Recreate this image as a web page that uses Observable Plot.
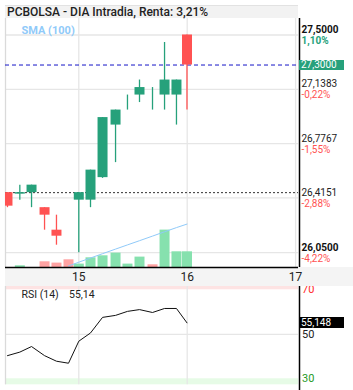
<!DOCTYPE html>
<html><head><meta charset="utf-8">
<script src="https://cdn.jsdelivr.net/npm/d3@7"></script>
<script src="https://cdn.jsdelivr.net/npm/@observablehq/plot@0.6"></script>
<style>
html,body{margin:0;padding:0;background:#fff;}
body{width:353px;height:390px;position:relative;overflow:hidden;font-family:Roboto,"Noto Sans",sans-serif;}
#title{position:absolute;left:5px;top:5px;width:293px;height:13px;background:#f2f2f2;border-top:1px solid #e2e2e2;box-sizing:border-box;font-size:12px;font-weight:500;color:#222;line-height:12px;padding-left:2px;white-space:nowrap;}
#band{position:absolute;left:5px;top:267px;width:348px;height:19px;background:#f4f4f4;z-index:2;}
#main{position:absolute;left:0;top:18px;z-index:3;}
#rsi{position:absolute;left:0;top:286px;z-index:1;}
.box{position:absolute;z-index:4;font-size:10px;color:#fff;line-height:10px;padding-left:2px;box-sizing:border-box;}
</style></head><body>
<div id="title"></div>
<div id="band"></div>
<div id="main"></div>
<div id="rsi"></div>
<script>
// ---- data ----
const titleText = "PCBOLSA - DIA Intradia, Renta: 3,21%";
const times = [14.342,14.456,14.564,14.684,14.794,14.905,15.000,15.108,15.219,15.339,15.449,15.560,15.680,15.791,15.901,15.998];
const open  = [26.45,26.44,26.45,26.35,26.20,null,26.40,26.40,26.55,26.90,27.05,27.10,27.10,27.10,27.10,27.50];
const close = [26.36,26.45,26.50,26.30,26.16,null,26.45,26.60,26.95,27.00,27.05,27.15,27.10,27.20,27.20,27.30];
const high  = [26.45,26.50,26.50,26.35,26.30,null,26.45,26.60,26.95,27.00,27.10,27.20,27.15,27.45,27.20,27.50];
const low   = [26.35,26.40,26.35,26.20,26.10,null,26.05,26.35,26.545,26.65,27.00,27.05,27.00,27.00,26.90,27.00];
const volume = [0,1700,0,5700,4400,7700,3400,9700,11700,14400,3400,10400,2700,37400,15700,15700];
const volUp  = [1,1,1,0,0,0,1,1,1,1,1,1,0,1,1,1];
const sma100 = [null,null,null,null,null,1500,5300,9500,13800,18400,22600,26800,31400,35700,39900,43400];
const rsi = [40.4,42.0,44.5,40.4,37.9,37.0,46.9,50.6,57.6,58.5,60.3,61.1,59.8,61.6,61.6,55.148];
const priceTicks  = [27.5,27.1383,26.7767,26.4151,26.05];
const priceLabels = ["27,5000","27,1383","26,7767","26,4151","26,0500"];
const pctLabels   = ["1,10%","-0,22%","-1,55%","-2,88%","-4,22%"];
const xTicks = [15,16,17];
const lastPrice = 27.30, lastLabel = "27,3000";
const refPrice = 26.45;
const rsiLevels = [70,50,30];
const rsiLevelColors = ["#ff2a2a","#222","#1f9a1f"];
const rsiLast = "55,148", rsiShort = "55,14";

// ---- scales / styles ----
const xDom = [14.3238, 17.0268];
const yDom = [25.9515, 27.6099];
const rsiDom = [24.74, 71.48];
const volTop = 249000;
const green = "#26a17b", red = "#ff5252";
const volGreen = "#86e1ae", volRed = "#ffa3a3";
const grid = "#e6e6e6";
const vy = v => yDom[0] + v / volTop * (yDom[1] - yDom[0]);

document.getElementById("title").textContent = titleText;

const idx = d3.range(times.length);
const cIdx = idx.filter(i => open[i] != null);
const col = i => close[i] >= open[i] ? green : red;
const font = "Roboto, sans-serif";

const main = Plot.plot({
  width: 353, height: 268, marginTop: 0, marginBottom: 19, marginLeft: 5, marginRight: 55,
  style: {background: "transparent", fontFamily: font, overflow: "visible"},
  x: {domain: xDom, axis: null}, y: {domain: yDom, axis: null}, color: {type: "identity"},
  marks: [
    Plot.ruleY(priceTicks, {stroke: grid, strokeWidth: 1.3}),
    Plot.ruleX(xTicks, {stroke: grid, strokeWidth: 1.3}),
    Plot.ruleX([xDom[0]], {stroke: "#dadada", strokeWidth: 1.3}),
    Plot.ruleX(idx.filter(i => volume[i] > 0), {x: i => times[i], y1: yDom[0], y2: i => vy(volume[i]), stroke: i => volUp[i] ? volGreen : volRed, strokeWidth: 10}),
    Plot.line(idx.filter(i => sma100[i] != null), {x: i => times[i], y: i => vy(sma100[i]), stroke: "#90caf9", strokeWidth: 1}),
    Plot.ruleY([lastPrice], {stroke: "#1414c8", strokeWidth: 1, strokeDasharray: "4,3"}),
    Plot.ruleY([refPrice], {stroke: "#333", strokeWidth: 1, strokeDasharray: "2,2"}),
    Plot.ruleX(cIdx, {x: i => times[i], y1: i => low[i], y2: i => high[i], stroke: col, strokeWidth: 1.3, clip: true}),
    Plot.ruleX(cIdx, {x: i => times[i], y1: i => open[i], y2: i => close[i], stroke: col, strokeWidth: 10, clip: true}),
    Plot.ruleY([yDom[0]], {stroke: "#000", strokeWidth: 1.5}),
    Plot.ruleX([xDom[1]], {stroke: "#000", strokeWidth: 1.5, dx: 1}),
    Plot.text(priceTicks, {y: d => d, text: (d, i) => priceLabels[i], frameAnchor: "right", textAnchor: "start", lineAnchor: "middle", dx: 3, dy: -5.2, fontSize: 10, fill: "#222", fontWeight: 400, filter: (d, i) => i > 0 && i < priceTicks.length - 1}),
    Plot.text(priceTicks, {y: d => d, text: (d, i) => priceLabels[i], frameAnchor: "right", textAnchor: "start", lineAnchor: "middle", dx: 3, dy: -5.2, fontSize: 10, fill: "#111", fontWeight: 700, filter: (d, i) => i === 0 || i === priceTicks.length - 1}),
    Plot.text(priceTicks, {y: d => d, text: (d, i) => pctLabels[i], frameAnchor: "right", textAnchor: "start", lineAnchor: "middle", dx: 3, dy: 5.8, fontSize: 10, fill: red, filter: (d, i) => i > 0}),
    Plot.text(priceTicks, {y: d => d, text: (d, i) => pctLabels[i], frameAnchor: "right", textAnchor: "start", lineAnchor: "middle", dx: 3, dy: 5.8, fontSize: 10, fontWeight: 700, fill: green, filter: (d, i) => i === 0}),
    Plot.text(xTicks, {x: d => d, y: yDom[0], text: d => String(d), dy: 10, fontSize: 12, fill: "#222", lineAnchor: "middle"}),
    Plot.text(["SMA (100)"], {frameAnchor: "top-left", lineAnchor: "middle", textAnchor: "start", dx: 16, dy: 11.5, fontSize: 11, fontWeight: 700, fill: "#90caf9"})
  ]
});
document.getElementById("main").appendChild(main);

const rsiPlot = Plot.plot({
  width: 353, height: 104, marginTop: 0, marginBottom: 0, marginLeft: 5, marginRight: 55,
  style: {background: "#fff", fontFamily: font, overflow: "visible"},
  x: {domain: xDom, axis: null}, y: {domain: rsiDom, axis: null}, color: {type: "identity"},
  marks: [
    Plot.rect([{a: 70, b: rsiDom[1], c: "#fde3e3"}, {a: 27.3, b: 30, c: "#e6fbe6"}], {x1: xDom[0], x2: xDom[1], y1: "a", y2: "b", fill: "c"}),
    Plot.ruleY([50], {stroke: grid, strokeWidth: 1.3}),
    Plot.ruleX(xTicks.slice(0, 2), {y1: 27.3, y2: rsiDom[1], stroke: grid, strokeWidth: 1.3}),
    Plot.ruleX([xDom[0]], {y1: 27.3, y2: rsiDom[1], stroke: "#dadada", strokeWidth: 1.3}),
    Plot.line(idx, {x: i => times[i], y: i => rsi[i], stroke: "#111", strokeWidth: 1}),
    Plot.ruleX([xDom[1]], {stroke: "#000", strokeWidth: 1.5, dx: 1}),
    Plot.text(rsiLevels, {y: d => d, text: d => String(d), frameAnchor: "right", textAnchor: "start", lineAnchor: "middle", dx: 3.5, fontSize: 11, fill: (d, i) => rsiLevelColors[i]}),
    Plot.text(["RSI (14)"], {frameAnchor: "top-left", lineAnchor: "middle", textAnchor: "start", dx: 16, dy: 8.6, fontSize: 10.5, fill: "#222"}),
    Plot.text([rsiShort], {frameAnchor: "top-left", lineAnchor: "middle", textAnchor: "start", dx: 63.5, dy: 8.6, fontSize: 10.5, fill: "#222"})
  ]
});
document.getElementById("rsi").appendChild(rsiPlot);

// value boxes placed through the plots' own scales
function box(text, bg, top, h) {
  const d = document.createElement("div");
  d.className = "box"; d.textContent = text;
  Object.assign(d.style, {left: "299px", width: "45px", height: h + "px", top: top + "px", background: bg, lineHeight: h + "px"});
  document.body.appendChild(d);
}
const yLast = 18 + main.scale("y").apply(lastPrice);
box(lastLabel, green, Math.round(yLast - 5), 10);
const yR = 286 + rsiPlot.scale("y").apply(rsi[rsi.length - 1]);
box(rsiLast, "#000", Math.round(yR - 5.5), 11);
</script>
</body></html>
